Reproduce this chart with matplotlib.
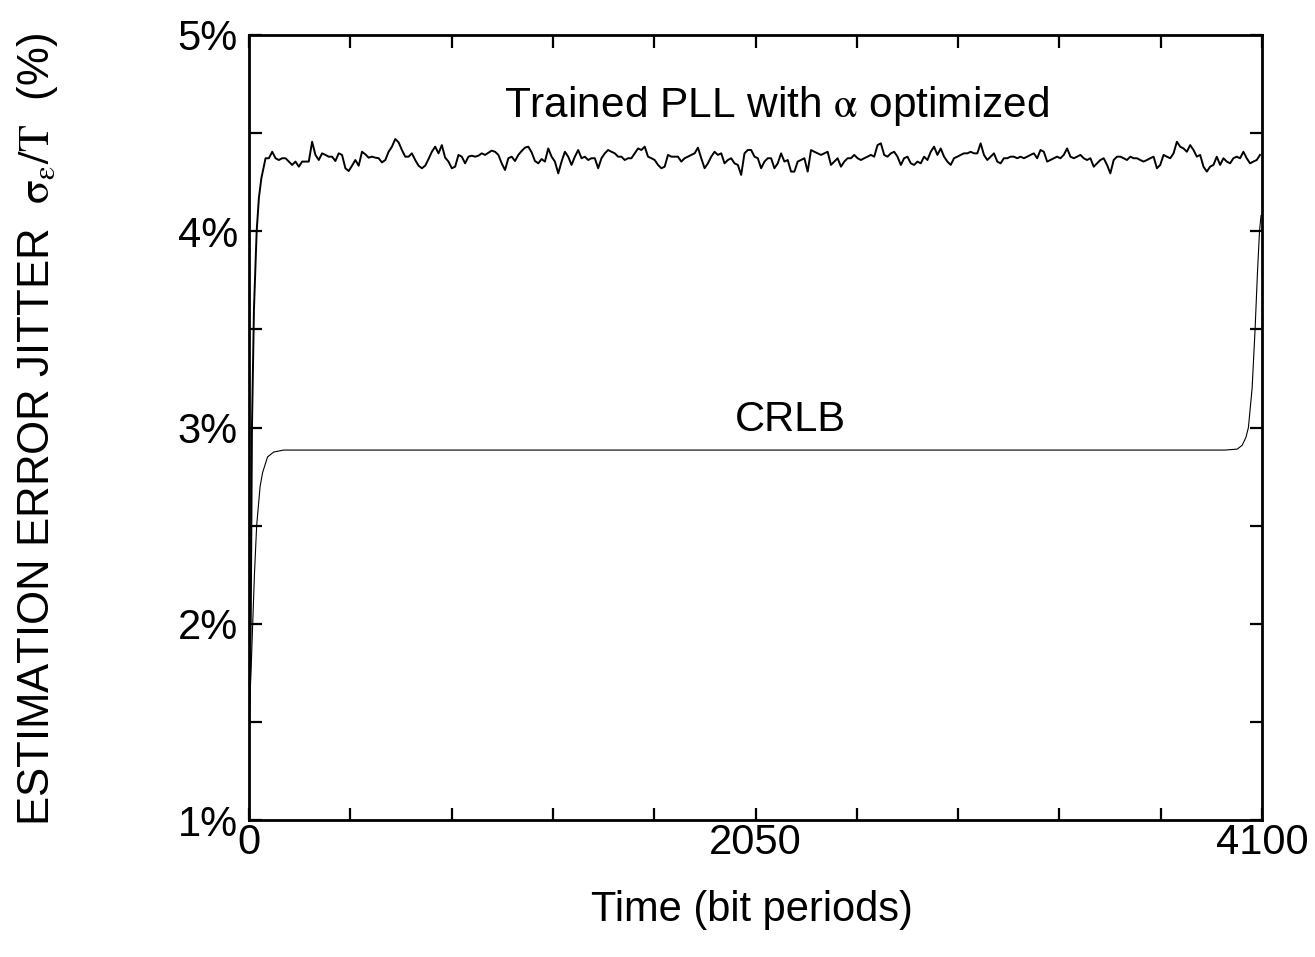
import numpy as np
import matplotlib
matplotlib.use("Agg")
import matplotlib.pyplot as plt

plt.rcParams['font.family'] = ['Liberation Sans', 'DejaVu Sans']
plt.rcParams['mathtext.fontset'] = 'stix'

# datos
# PLL entrenado: subida inicial y luego la parte ruidosa (paso uniforme hasta 4100)
pll_rise_t = [0, 4, 7, 12, 20, 31, 40, 50, 60]
pll_rise_v = [1.45, 1.7, 2.0, 3.0, 3.6, 4.0, 4.17, 4.27, 4.33]
pll_noise_t0 = 67
pll_noise_v = [
    # tramo 1
    4.372, 4.372, 4.405, 4.372, 4.363, 4.372, 4.372, 4.355, 4.338, 4.355,
    4.329, 4.355, 4.355, 4.355, 4.456, 4.389, 4.363, 4.397, 4.389, 4.380,
    4.380, 4.358, 4.397, 4.389, 4.321, 4.307, 4.334, 4.363, 4.334, 4.405,
    4.392, 4.375, 4.380, 4.375, 4.372, 4.351, 4.363, 4.405, 4.431, 4.470,
    4.453, 4.414, 4.380, 4.380, 4.397, 4.363, 4.334, 4.321, 4.334, 4.368,
    4.405, 4.431, 4.397, 4.439, 4.375, 4.355,
    # tramo 2
    4.321, 4.329, 4.389, 4.380, 4.346, 4.380, 4.385, 4.380, 4.385, 4.397,
    4.389, 4.400, 4.411, 4.405, 4.389, 4.346, 4.312, 4.372, 4.380, 4.358,
    4.389, 4.409, 4.426, 4.431, 4.402, 4.358, 4.346, 4.368, 4.355, 4.422,
    4.380, 4.355, 4.295, 4.355, 4.405, 4.380, 4.338, 4.380, 4.414, 4.372,
    4.380, 4.363, 4.372, 4.372, 4.321, 4.372, 4.397, 4.414, 4.405, 4.397,
    4.380, 4.380, 4.363, 4.372, 4.372, 4.397, 4.422, 4.414, 4.431, 4.380,
    4.372,
    # tramo 3
    4.363, 4.338, 4.321, 4.329, 4.389, 4.380, 4.380, 4.380, 4.355, 4.372,
    4.380, 4.389, 4.397, 4.426, 4.372, 4.321, 4.346, 4.380, 4.405, 4.389,
    4.397, 4.346, 4.363, 4.372, 4.346, 4.338, 4.287, 4.397, 4.414, 4.414,
    4.380, 4.372, 4.321, 4.355, 4.372, 4.372, 4.321, 4.346, 4.397, 4.355,
    4.363, 4.304, 4.304, 4.355, 4.363, 4.372, 4.304, 4.414, 4.405, 4.397,
    4.389, 4.397, 4.405, 4.338, 4.355, 4.372, 4.329, 4.355, 4.372, 4.372,
    4.389,
    # tramo 4
    4.372, 4.363, 4.372, 4.380, 4.389, 4.380, 4.439, 4.448, 4.389, 4.380,
    4.397, 4.405, 4.380, 4.338, 4.372, 4.380, 4.346, 4.338, 4.355, 4.346,
    4.380, 4.363, 4.405, 4.431, 4.389, 4.422, 4.380, 4.355, 4.338, 4.372,
    4.380, 4.389, 4.397, 4.397, 4.405, 4.397, 4.397, 4.448, 4.389, 4.363,
    4.380, 4.397, 4.355, 4.346, 4.372, 4.372, 4.380, 4.380, 4.372, 4.380,
    4.372, 4.380, 4.389, 4.397, 4.372, 4.414, 4.405, 4.355, 4.363, 4.372,
    4.380,
    # tramo 5
    4.372, 4.389, 4.422, 4.380, 4.372, 4.380, 4.389, 4.372, 4.363, 4.372,
    4.329, 4.346, 4.363, 4.372, 4.338, 4.295, 4.363, 4.380, 4.380, 4.372,
    4.363, 4.380, 4.372, 4.372, 4.363, 4.355, 4.363, 4.372, 4.380, 4.321,
    4.338, 4.389, 4.380, 4.372, 4.397, 4.456, 4.431, 4.422, 4.405, 4.439,
    4.414, 4.380, 4.389, 4.329, 4.304, 4.329, 4.338, 4.380, 4.338, 4.372,
    4.355, 4.346, 4.372, 4.380, 4.372, 4.405, 4.372, 4.346, 4.355, 4.363,
    4.389,
]

# CRLB
crlb_t = [0, 8, 15, 22, 31, 45, 55, 75, 100, 140, 3950, 4000, 4020, 4035,
          4045, 4060, 4072, 4082, 4090, 4096]
crlb_v = [1.5, 1.75, 2.0, 2.25, 2.5, 2.7, 2.77, 2.85, 2.875, 2.885, 2.885,
          2.89, 2.91, 2.95, 3.0, 3.2, 3.5, 3.8, 4.0, 4.08]

x_ticks = np.arange(0, 4101, 410)
x_labels = ['0', '', '', '', '', '2050', '', '', '', '', '4100']
y_ticks = np.arange(1, 5.01, 0.5)
y_labels = ['1%', '', '2%', '', '3%', '', '4%', '', '5%']

pll_t = np.concatenate([pll_rise_t, np.linspace(pll_noise_t0, 4092, len(pll_noise_v))])
pll_v = np.concatenate([pll_rise_v, pll_noise_v])

fig = plt.figure(figsize=(13.15, 9.57), dpi=100)
ax = fig.add_axes([249 / 1315, 1 - 820 / 957, (1262 - 249) / 1315, (820 - 35) / 957])

ax.plot(pll_t, pll_v, color='black', linewidth=1.4)
ax.plot(crlb_t, crlb_v, color='black', linewidth=0.8)

ax.set_xlim(0, 4100)
ax.set_ylim(1, 5)
ax.set_xticks(x_ticks)
ax.set_xticklabels(x_labels)
ax.set_yticks(y_ticks)
ax.set_yticklabels(y_labels)

ax.tick_params(direction='in', length=9, width=1.6, top=True, right=True,
               labelsize=30)
ax.tick_params(axis='x', pad=2)
ax.tick_params(axis='y', pad=8)
for s in ax.spines.values():
    s.set_linewidth(2)

ax.text(2137, 4.64, r'Trained PLL with $\mathrm{\alpha}$ optimized', fontsize=30.5,
        ha='center', va='center')
ax.text(2190, 3.04, 'CRLB', fontsize=30, ha='center', va='center')

fig.text(752 / 1315, 1 - 910 / 957, 'Time (bit periods)', fontsize=30,
         ha='center', va='center')
fig.text(38 / 1315, 1 - 430 / 957,
         r'ESTIMATION ERROR JITTER  $\mathrm{\sigma_\varepsilon/T}$  (%)',
         fontsize=31.5, rotation=90, ha='center', va='center')

fig.savefig('out.png', dpi=100)
